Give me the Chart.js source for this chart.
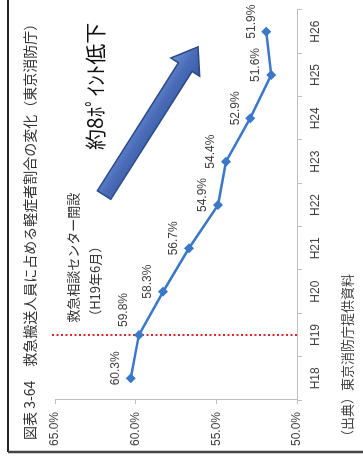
<!DOCTYPE html>
<html>
<head>
<meta charset="utf-8">
<script src="https://cdn.jsdelivr.net/npm/chart.js@4.4.1/dist/chart.umd.min.js"></script>
<style>
  html, body { margin: 0; padding: 0; background: #fff; overflow: hidden; width: 363px; height: 464px; }
  #wrap { position: absolute; left: 0; top: 0; width: 464px; height: 363px;
          transform-origin: 0 0; transform: translateY(464px) rotate(-90deg); background: #fff; }
  canvas { display: block; }
</style>
</head>
<body>
<div id="wrap"><canvas id="c" width="464" height="363"></canvas></div>
<script>
// ---- data ----
const categories = ['H18', 'H19', 'H20', 'H21', 'H22', 'H23', 'H24', 'H25', 'H26'];
const shareValues = [60.3, 59.8, 58.3, 56.7, 54.9, 54.4, 52.9, 51.6, 51.9];
const valueTicks = [50, 55, 60, 65];
const titleText = '図表 3-64　救急搬送人員に占める軽症者割合の変化（東京消防庁）';
const sourceText = '（出典）東京消防庁提供資料';
const eventCategory = 'H19';
const eventLines = ['救急相談センター開設', '（H19年6月）'];
const trendText = '約8ﾎﾟｲﾝﾄ低下';

const NUM_FONT = "'Liberation Sans Narrow', 'Arial Narrow', 'Liberation Sans', Arial, sans-serif";
const JP_FONT = "'Noto Sans CJK JP', 'Noto Sans', sans-serif";
const LINE_COLOR = '#3a78c9';

const fmt = v => v.toFixed(1) + '%';

const decorPlugin = {
  id: 'decor',
  beforeDraw(chart) {
    const ctx = chart.ctx;
    ctx.save();
    ctx.fillStyle = '#fff';
    ctx.fillRect(0, 0, chart.width, chart.height);
    // frame
    ctx.strokeStyle = '#222';
    ctx.lineWidth = 2;
    ctx.beginPath();
    ctx.moveTo(12, 8); ctx.lineTo(chart.width, 8);
    ctx.stroke();
    ctx.strokeStyle = '#444';
    ctx.lineWidth = 2.5;
    ctx.beginPath();
    ctx.moveTo(12, 8); ctx.lineTo(12, chart.height);
    ctx.stroke();
    // title
    ctx.fillStyle = '#333';
    ctx.font = '14px ' + JP_FONT;
    ctx.textAlign = 'left';
    ctx.textBaseline = 'middle';
    ctx.fillText(titleText, 24, 30);
    // source
    ctx.font = '13px ' + JP_FONT;
    ctx.fillStyle = '#444';
    ctx.fillText(sourceText, 21, 347);
    ctx.restore();
  },
  beforeDatasetsDraw(chart) {
    const ctx = chart.ctx;
    const xs = chart.scales.x, ys = chart.scales.y, area = chart.chartArea;
    const ex = xs.getPixelForValue(categories.indexOf(eventCategory));
    ctx.save();
    // red dotted event line
    ctx.strokeStyle = '#e3242b';
    ctx.lineWidth = 2;
    ctx.setLineDash([2, 2.5]);
    ctx.beginPath();
    ctx.moveTo(ex, area.top - 3);
    ctx.lineTo(ex, area.bottom);
    ctx.stroke();
    ctx.setLineDash([]);
    // event text
    ctx.fillStyle = '#333';
    ctx.font = '13px ' + JP_FONT;
    ctx.textAlign = 'left';
    ctx.textBaseline = 'middle';
    const tx = xs.getPixelForValue(1.28);
    ctx.fillText(eventLines[0], tx, ys.getPixelForValue(63.88));
    ctx.fillText(eventLines[1], tx, ys.getPixelForValue(62.52));
    // trend text
    ctx.font = '21px ' + JP_FONT;
    ctx.fillStyle = '#111';
    ctx.fillText(trendText, xs.getPixelForValue(5.27), ys.getPixelForValue(62.5));
    // arrow
    const x0 = xs.getPixelForValue(4.23), y0 = ys.getPixelForValue(61.96);
    const x1 = xs.getPixelForValue(7.65), y1 = ys.getPixelForValue(56.13);
    const dx = x1 - x0, dy = y1 - y0, L = Math.hypot(dx, dy);
    ctx.translate(x0, y0);
    ctx.rotate(Math.atan2(dy, dx));
    const sw = 8, hw = 17, hl = 24;
    const grad = ctx.createLinearGradient(0, -hw, 0, hw);
    grad.addColorStop(0, '#6a8fd6');
    grad.addColorStop(0.5, '#4a6cb8');
    grad.addColorStop(1, '#3a5aa3');
    ctx.beginPath();
    ctx.moveTo(0, -sw);
    ctx.lineTo(L - hl, -sw);
    ctx.lineTo(L - hl, -hw);
    ctx.lineTo(L, 0);
    ctx.lineTo(L - hl, hw);
    ctx.lineTo(L - hl, sw);
    ctx.lineTo(0, sw);
    ctx.closePath();
    ctx.fillStyle = grad;
    ctx.fill();
    ctx.strokeStyle = '#2c4a87';
    ctx.lineWidth = 1.5;
    ctx.stroke();
    ctx.restore();
  },
  afterDatasetsDraw(chart) {
    const ctx = chart.ctx;
    const meta = chart.getDatasetMeta(0);
    const ex = chart.scales.x.getPixelForValue(categories.indexOf(eventCategory));
    ctx.save();
    ctx.fillStyle = '#404040';
    ctx.font = '12px ' + NUM_FONT;
    ctx.textAlign = 'center';
    ctx.textBaseline = 'middle';
    meta.data.forEach((pt, i) => {
      const txt = fmt(shareValues[i]);
      const w = ctx.measureText(txt).width;
      let cx = pt.x + 10;
      // keep labels clear of the dotted event line
      if (cx - w / 2 < ex + 3 && cx + w / 2 > ex - 3) cx = ex + 8 + w / 2;
      ctx.fillText(txt, cx, pt.y - 15);
    });
    ctx.restore();
  }
};

new Chart(document.getElementById('c'), {
  type: 'line',
  data: {
    labels: categories,
    datasets: [{
      data: shareValues,
      borderColor: LINE_COLOR,
      backgroundColor: LINE_COLOR,
      borderWidth: 2.5,
      pointStyle: 'rectRot',
      pointRadius: 5,
      pointBorderWidth: 0,
      tension: 0
    }]
  },
  options: {
    responsive: false,
    animation: false,
    devicePixelRatio: 1,
    layout: { padding: { left: 0, right: 10, top: 55, bottom: 0 } },
    plugins: { legend: { display: false }, tooltip: { enabled: false } },
    scales: {
      x: {
        type: 'category',
        offset: true,
        grid: { display: true, offset: true, drawOnChartArea: false, drawTicks: true, tickLength: 5, color: '#bfbfbf' },
        border: { display: true, color: '#bfbfbf', width: 1 },
        ticks: { color: '#404040', font: { family: NUM_FONT, size: 12 }, padding: 6, maxRotation: 0, autoSkip: false },
        afterFit(s) { s.height = 66; }
      },
      y: {
        min: 50, max: 65,
        grid: { display: true, drawOnChartArea: false, drawTicks: true, tickLength: 4, color: '#bfbfbf' },
        border: { display: true, color: '#bfbfbf', width: 1 },
        afterBuildTicks(s) { s.ticks = valueTicks.map(v => ({ value: v })); },
        ticks: { color: '#404040', font: { family: NUM_FONT, size: 12 }, padding: 8, callback: v => fmt(v) },
        afterFit(s) { s.width = 64; }
      }
    }
  },
  plugins: [decorPlugin]
});
</script>
</body>
</html>
